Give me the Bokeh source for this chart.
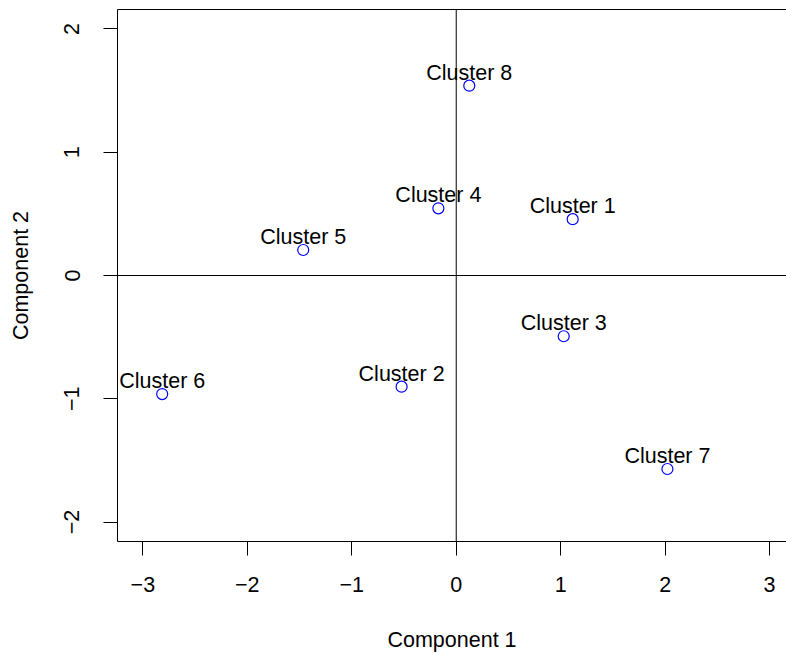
from bokeh.plotting import figure
from bokeh.models import Range1d, LinearAxis, FixedTicker, Span, ColumnDataSource
from bokeh.core.properties import value
from bokeh.embed import file_html
from bokeh.resources import INLINE

labels = ["Cluster 1", "Cluster 2", "Cluster 3", "Cluster 4",
          "Cluster 5", "Cluster 6", "Cluster 7", "Cluster 8"]
comp1 = [1.115, -0.523, 1.029, -0.171, -1.465, -2.815, 2.022, 0.125]
comp2 = [0.457, -0.902, -0.493, 0.545, 0.207, -0.962, -1.570, 1.540]
x_ticks = [-3, -2, -1, 0, 1, 2, 3]
y_ticks = [-2, -1, 0, 1, 2]

FONT = "Liberation Sans"
FS = "21.5px"

src = ColumnDataSource(dict(x=comp1, y=comp2, label=labels))

p = figure(width=786, height=654, output_backend="svg", toolbar_location=None,
           x_range=Range1d(-3.243, 3.162), y_range=Range1d(-2.158, 2.158),
           x_axis_label="Component 1", y_axis_label="Component 2",
           min_border_left=117, min_border_right=0, min_border_top=9,
           min_border_bottom=110)
p.outline_line_color = None
p.grid.visible = False
p.background_fill_color = "white"
p.border_fill_color = "white"

def minus(t):
    return str(t).replace("-", "\u2212")

for ax, ticks in ((p.xaxis[0], x_ticks), (p.yaxis[0], y_ticks)):
    ax.ticker = FixedTicker(ticks=ticks)
    ax.major_label_overrides = {t: minus(t) for t in ticks}
    ax.minor_tick_line_color = None
    ax.major_tick_out = 14
    ax.major_tick_in = 0
    ax.axis_line_color = "black"
    ax.major_tick_line_color = "black"
    ax.major_label_text_font = FONT
    ax.major_label_text_font_size = FS
    ax.major_label_text_color = "black"
    ax.axis_label_text_font = FONT
    ax.axis_label_text_font_size = FS
    ax.axis_label_text_font_style = "normal"
    ax.axis_label_text_color = "black"

p.xaxis[0].major_label_standoff = 21
p.xaxis[0].axis_label_standoff = 33
p.yaxis[0].major_label_orientation = "vertical"
p.yaxis[0].major_label_standoff = 24
p.yaxis[0].axis_label_standoff = 29

top = LinearAxis(ticker=FixedTicker(ticks=[]), major_label_text_font_size="0px",
                 axis_line_color="black", major_tick_line_color=None,
                 minor_tick_line_color=None, major_label_standoff=0)
p.add_layout(top, "above")

p.add_layout(Span(location=0, dimension="width", line_color="black", line_width=1))
p.add_layout(Span(location=0, dimension="height", line_color="black", line_width=1))

p.scatter("x", "y", source=src, size=11, marker="circle", fill_color=None,
          line_color="blue", line_width=1.2)
p.text("x", "y", text="label", source=src, y_offset=-13,
       text_align="center", text_baseline="middle",
       text_font=value(FONT), text_font_size=FS, text_color="black")

open("out.html", "w").write(file_html(p, INLINE))
